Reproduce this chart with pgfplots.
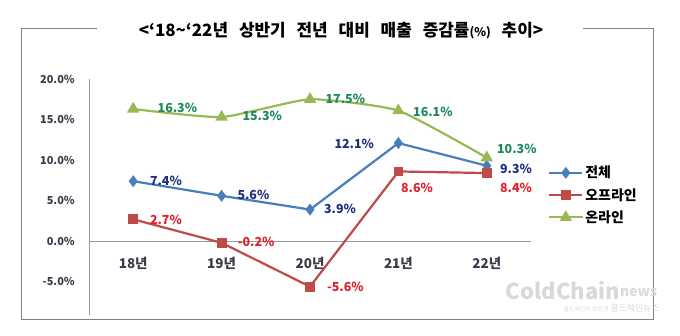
\documentclass[border=0pt]{standalone}
\usepackage{pgfplots}
\pgfplotsset{compat=1.18}
\usepackage{fontspec}
\setmainfont{Noto Sans CJK KR}
\definecolor{cBlue}{HTML}{4A7EBB}
\definecolor{cRed}{HTML}{BE4B48}
\definecolor{cGreen}{HTML}{98B954}
\definecolor{lBlue}{HTML}{1F2F7A}
\definecolor{lRed}{HTML}{E0202A}
\definecolor{lGreen}{HTML}{1A8A5A}
\definecolor{tickc}{HTML}{3A3A4A}
\begin{document}
\begin{tikzpicture}
\useasboundingbox (0bp,0bp) rectangle (680bp,336bp);
\draw[gray, line width=1bp] (97bp,307bp) -- (21bp,307bp) -- (21bp,16bp) -- (653bp,16bp) -- (653bp,307bp) -- (583bp,307bp);
\node[font=\fontsize{17}{20}\selectfont\bfseries, inner sep=0pt] at (341bp,305bp) {<‘18\textasciitilde‘22년\hspace{7bp} 상반기\hspace{7bp} 전년\hspace{7bp} 대비\hspace{7bp} 매출\hspace{7bp} 증감률{\fontsize{12}{14}\selectfont(\%)}\hspace{7bp} 추이>};
% watermark
\node[font=\fontsize{22}{24}\selectfont\bfseries, text=gray!30, anchor=east, inner sep=0pt] at (620bp,45bp) {ColdChain};
\node[font=\fontsize{14}{16}\selectfont\bfseries, text=gray!30, anchor=west, inner sep=0pt] at (620bp,43bp) {news};
\node[font=\fontsize{6}{7}\selectfont, text=gray!30, anchor=east, inner sep=0pt] at (660bp,28bp) {콜드체인의 모든것 {\fontsize{9}{10}\selectfont 콜드체인뉴스}};
\begin{axis}[
  at={(89bp,21bp)}, anchor=south west, scale only axis,
  width=442bp, height=236bp,
  xmin=-0.5, xmax=4.5, ymin=-9.1, ymax=20,
  axis x line=middle, axis y line=left,
  axis line style={-, draw=gray!80, line width=0.9bp},
  hide obscured y ticks=false, hide obscured x ticks=false,
  xtick={0,1,2,3,4}, xticklabels={18년,19년,20년,21년,22년},
  ytick={-5,0,5,10,15,20},
  yticklabels={-5.0\%,0.0\%,5.0\%,10.0\%,15.0\%,20.0\%},
  major tick length=0pt,
  tick label style={text=tickc},
  yticklabel style={font=\fontsize{11}{13}\selectfont\bfseries, anchor=east, inner sep=0pt, xshift=-14bp},
  xticklabel style={font=\fontsize{13.5}{15}\selectfont\bfseries, anchor=center, inner sep=0pt, yshift=-22bp},
  clip=false,
  legend style={at={(1,0.508)}, anchor=west, xshift=17bp, draw=none, fill=none,
    font=\fontsize{14}{16}\selectfont\bfseries, row sep=5bp, inner sep=0pt,
    cells={anchor=west}},
  legend image code/.code={\draw[mark repeat=2, mark phase=2, #1] plot coordinates {(0bp,0bp) (16.5bp,0bp) (33bp,0bp)};},
]
\addplot[cBlue, line width=2.2bp, mark=diamond*, mark size=4.2bp, mark options={fill=cBlue, solid}]
  coordinates {(0,7.4) (1,5.6) (2,3.9) (3,12.1) (4,9.3)};
\addlegendentry{전체}
\addplot[cRed, line width=2.2bp, mark=square*, mark size=3.8bp, mark options={fill=cRed, solid}]
  coordinates {(0,2.7) (1,-0.2) (2,-5.6) (3,8.6) (4,8.4)};
\addlegendentry{오프라인}
\addplot[cGreen, line width=2.2bp, smooth, tension=0.3, mark=triangle*, mark size=5bp, mark options={fill=cGreen, solid}]
  coordinates {(0,16.3) (1,15.3) (2,17.5) (3,16.1) (4,10.3)};
\addlegendentry{온라인}
\begin{scope}[every node/.style={font=\fontsize{12.5}{14}\selectfont\bfseries, inner sep=0pt}]
\node[text=lGreen] at (axis cs:0.50,16.4) {16.3\%};
\node[text=lGreen] at (axis cs:1.46,15.4) {15.3\%};
\node[text=lGreen] at (axis cs:2.40,17.6) {17.5\%};
\node[text=lGreen] at (axis cs:3.39,16.0) {16.1\%};
\node[text=lGreen] at (axis cs:4.34,11.34) {10.3\%};
\node[text=lBlue] at (axis cs:0.37,7.4) {7.4\%};
\node[text=lBlue] at (axis cs:1.36,5.67) {5.6\%};
\node[text=lBlue] at (axis cs:2.34,3.95) {3.9\%};
\node[text=lBlue] at (axis cs:2.50,11.96) {12.1\%};
\node[text=lBlue] at (axis cs:4.33,8.88) {9.3\%};
\node[text=lRed] at (axis cs:0.37,2.59) {2.7\%};
\node[text=lRed] at (axis cs:1.39,-0.12) {-0.2\%};
\node[text=lRed] at (axis cs:2.40,-5.67) {-5.6\%};
\node[text=lRed] at (axis cs:3.21,6.54) {8.6\%};
\node[text=lRed] at (axis cs:4.33,6.54) {8.4\%};
\end{scope}
\end{axis}
\end{tikzpicture}
\end{document}
